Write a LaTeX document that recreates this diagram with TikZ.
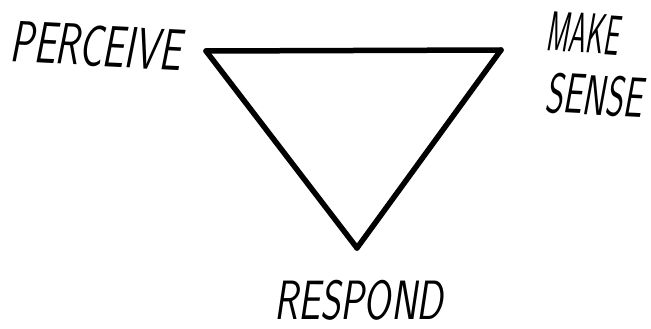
\documentclass[tikz,border=0pt]{standalone}
\usepackage{graphicx}
\tikzset{
  word/.style={font=\fontsize{39}{39}\selectfont\sffamily\itshape, inner sep=0pt},
  edge/.style={line width=5.5pt, line join=round}
}
\begin{document}
\begin{tikzpicture}[line cap=round,x=1pt,y=1pt]
  \useasboundingbox (0,0) rectangle (651,-329);
  % corners of the triangle
  \coordinate (tl) at (206,-51);
  \coordinate (tr) at (501,-50);
  \coordinate (bt) at (357,-248);
  \draw[edge] (tl) -- (tr);
  \draw[edge] (tl) -- (bt);
  \draw[edge] (tr) -- (bt);
  % labels
  \node[word, rotate=-3] (perceive) at (96,-46) {\scalebox{1}[1.5]{PERCEIVE}};
  \node[word, rotate=-4] (make) at (583,-33) {\scalebox{0.7}[1.45]{MAKE}};
  \node[word, rotate=-3] (sense) at (594,-95) {\scalebox{0.88}[1.45]{SENSE}};
  \node[word, text depth=0pt] (respond) at (359,-300) {\scalebox{1}[1.42]{RESPOND}};
\end{tikzpicture}
\end{document}
